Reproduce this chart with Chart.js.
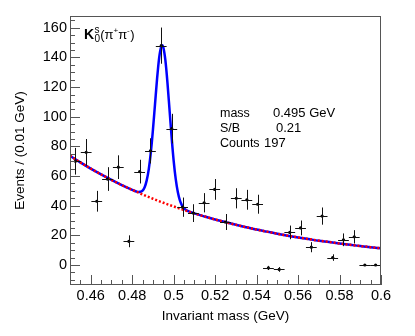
<!DOCTYPE html>
<html>
<head>
<meta charset="utf-8">
<script src="https://cdn.jsdelivr.net/npm/chart.js@4.4.1/dist/chart.umd.min.js"></script>
<style>
  html, body { margin: 0; padding: 0; background: #fff; }
  #wrap { width: 415px; height: 336px; }
</style>
</head>
<body>
<div id="wrap"><canvas id="massChart" width="415" height="336"></canvas></div>
<script>
// histogram: 29 bins between 0.45 and 0.6 GeV
const binCenters = [0.4526, 0.4578, 0.4629, 0.4681, 0.4733, 0.4784, 0.4836, 0.4888, 0.4940, 0.4991,
  0.5043, 0.5095, 0.5147, 0.5198, 0.5250, 0.5302, 0.5353, 0.5405, 0.5457, 0.5509,
  0.5560, 0.5612, 0.5664, 0.5716, 0.5767, 0.5819, 0.5871, 0.5922, 0.5974];
const counts = [70, 76, 43, 58, 66, 16, 63, 77, 148, 92,
  39, 35, 42, 51, 29, 45, 44, 41, -2, -3,
  22, 25, 12, 33, 5, 17, 19, 0, 0];
const countErrors = [9, 9, 7, 8, 8, 4, 8, 8.5, 12.2, 10,
  6.5, 6, 6.5, 7, 5.4, 6.8, 6.7, 6.4, 1.4, 1.6,
  4.6, 5, 3.4, 5.8, 2.2, 4.3, 4.5, 0, 0];
const binHalfWidth = 0.0026;

// signal + background fit (blue)
const fitX = [0.45, 0.455, 0.46, 0.465, 0.47, 0.475, 0.48, 0.481, 0.482, 0.483, 0.484, 0.485, 0.486,
  0.487, 0.488, 0.489, 0.49, 0.491, 0.492, 0.493, 0.494, 0.4945, 0.495, 0.496, 0.497, 0.498, 0.499,
  0.5, 0.501, 0.502, 0.503, 0.504, 0.505, 0.506, 0.507, 0.508, 0.51, 0.515, 0.52, 0.525, 0.53,
  0.535, 0.54, 0.545, 0.55, 0.555, 0.56, 0.565, 0.57, 0.575, 0.58, 0.585, 0.59, 0.595, 0.6];
const fitY = [73.7, 69.2, 65.0, 61.1, 57.4, 53.9, 50.7, 50.1, 49.6, 49.3, 49.4, 50.2, 52.5,
  57.1, 64.7, 76.1, 91.1, 108.4, 125.7, 139.8, 147.4, 148.3, 146.9, 138.2, 123.1, 104.8, 86.4,
  70.3, 57.9, 49.2, 43.6, 40.2, 38.2, 37.1, 36.3, 35.8, 34.8, 32.7, 30.7, 28.9, 27.1,
  25.5, 23.9, 22.5, 21.1, 19.8, 18.6, 17.5, 16.4, 15.5, 14.5, 13.6, 12.8, 12.0, 11.3];

// background only (red dotted)
const bkgX = [0.45, 0.455, 0.46, 0.465, 0.47, 0.475, 0.48, 0.485, 0.49, 0.495, 0.5, 0.505, 0.51,
  0.515, 0.52, 0.525, 0.53, 0.535, 0.54, 0.545, 0.55, 0.555, 0.56, 0.565, 0.57, 0.575, 0.58,
  0.585, 0.59, 0.595, 0.6];
const bkgY = [73.7, 69.2, 65.0, 61.1, 57.4, 53.9, 50.7, 47.6, 44.7, 42.0, 39.5, 37.1, 34.8,
  32.7, 30.7, 28.9, 27.1, 25.5, 23.9, 22.5, 21.1, 19.8, 18.6, 17.5, 16.4, 15.5, 14.5,
  13.6, 12.8, 12.0, 11.3];

const xTicks = [0.46, 0.48, 0.5, 0.52, 0.54, 0.56, 0.58, 0.6];
const yTicks = [0, 20, 40, 60, 80, 100, 120, 140, 160];
const statLabels = ["mass", "S/B", "Counts"];
const statValues = ["0.495 GeV", "0.21", "197"];

const FONT = "'Liberation Sans', Arial, sans-serif";
Chart.defaults.font.family = FONT;
Chart.defaults.color = "#000";

function toPoints(xs, ys) {
  return xs.map((x, i) => ({ x: x, y: ys[i] }));
}

// ROOT-like frame, inward ticks, error bars and the text boxes
const rootStyle = {
  id: "rootStyle",
  afterDatasetsDraw(chart) {
    const ctx = chart.ctx;
    const xs = chart.scales.x, ys = chart.scales.y;
    ctx.save();
    ctx.strokeStyle = "#111";
    ctx.lineWidth = 1;
    binCenters.forEach((c, i) => {
      const px = Math.round(xs.getPixelForValue(c)) + 0.5;
      const py = Math.round(ys.getPixelForValue(counts[i])) + 0.5;
      ctx.beginPath();
      ctx.moveTo(xs.getPixelForValue(c - binHalfWidth), py);
      ctx.lineTo(xs.getPixelForValue(c + binHalfWidth), py);
      if (countErrors[i] > 0) {
        ctx.moveTo(px, ys.getPixelForValue(counts[i] + countErrors[i]));
        ctx.lineTo(px, ys.getPixelForValue(counts[i] - countErrors[i]));
      }
      ctx.stroke();
    });
    ctx.restore();
  },
  afterDraw(chart) {
    const ctx = chart.ctx;
    const { left, right, top, bottom } = chart.chartArea;
    const xs = chart.scales.x, ys = chart.scales.y;
    ctx.save();
    ctx.strokeStyle = "#555";
    ctx.lineWidth = 1;
    ctx.strokeRect(left + 0.5, top + 0.5, right - left - 1, bottom - top - 1);

    ctx.beginPath();
    // y ticks every 5, long ones every 20
    for (let v = -10; v <= 165; v += 5) {
      const py = Math.round(ys.getPixelForValue(v)) + 0.5;
      const len = v % 20 === 0 ? 10 : 5;
      ctx.moveTo(left, py);
      ctx.lineTo(left + len, py);
    }
    // x ticks every 0.005, long ones every 0.02
    for (let k = 0; k <= 30; k++) {
      const px = Math.round(xs.getPixelForValue(0.45 + k * 0.005)) + 0.5;
      const len = (k - 2) % 4 === 0 ? 10 : 5;
      ctx.moveTo(px, bottom);
      ctx.lineTo(px, bottom - len);
    }
    ctx.stroke();

    // K0s label
    ctx.fillStyle = "#000";
    ctx.textAlign = "left";
    ctx.textBaseline = "alphabetic";
    let x = left + 14, y = top + 23;
    ctx.font = "bold 14px " + FONT;
    ctx.fillText("K", x, y);
    x += ctx.measureText("K").width + 0.5;
    ctx.font = "10px " + FONT;
    ctx.fillText("s", x, y - 6);
    ctx.fillText("0", x, y + 3);
    x += ctx.measureText("0").width;
    ctx.font = "13px " + FONT;
    ctx.fillText("(\u03c0", x, y);
    x += ctx.measureText("(\u03c0").width;
    ctx.font = "8px " + FONT;
    ctx.fillText("+", x, y - 6);
    x += ctx.measureText("+").width;
    ctx.font = "13px " + FONT;
    ctx.fillText("\u03c0", x, y);
    x += ctx.measureText("\u03c0").width;
    ctx.font = "8px " + FONT;
    ctx.fillText("-", x, y - 6);
    x += ctx.measureText("-").width + 0.5;
    ctx.font = "13px " + FONT;
    ctx.fillText(")", x, y);

    // fit summary
    const valueX = [left + 203, left + 206, left + 194];
    statLabels.forEach((lab, i) => {
      const by = top + 101 + i * 15;
      ctx.font = "12.5px " + FONT;
      ctx.fillText(lab, left + 150, by);
      ctx.font = "13px " + FONT;
      ctx.fillText(statValues[i], valueX[i], by);
    });
    ctx.restore();
  }
};

new Chart(document.getElementById("massChart"), {
  type: "scatter",
  data: {
    datasets: [
      {
        label: "data",
        data: toPoints(binCenters, counts),
        pointRadius: 1.6,
        pointBackgroundColor: "#000",
        pointBorderWidth: 0,
        order: 0
      },
      {
        label: "background",
        data: toPoints(bkgX, bkgY),
        showLine: true,
        pointRadius: 0,
        borderColor: "#ff0000",
        borderWidth: 2.5,
        borderDash: [2, 2],
        cubicInterpolationMode: "monotone",
        order: 1
      },
      {
        label: "fit",
        data: toPoints(fitX, fitY),
        showLine: true,
        pointRadius: 0,
        borderColor: "#0000ff",
        borderWidth: 2.5,
        cubicInterpolationMode: "monotone",
        order: 2
      }
    ]
  },
  options: {
    responsive: false,
    animation: false,
    layout: { padding: { left: 0, top: 16, right: 34, bottom: 0 } },
    plugins: {
      legend: { display: false },
      tooltip: { enabled: false }
    },
    scales: {
      x: {
        type: "linear",
        min: 0.45,
        max: 0.6,
        grid: { display: false, drawTicks: false },
        border: { display: false },
        afterBuildTicks: scale => { scale.ticks = xTicks.map(v => ({ value: v })); },
        afterFit: scale => { scale.height = 51; },
        ticks: {
          autoSkip: false,
          maxRotation: 0,
          padding: 2,
          color: "#000",
          font: { size: 14.5 },
          callback: v => String(parseFloat(v.toFixed(2)))
        },
        title: {
          display: true,
          text: "Invariant mass (GeV)",
          color: "#000",
          font: { size: 13.5 },
          padding: { top: 0, bottom: 12 }
        }
      },
      y: {
        min: -13.5,
        max: 168,
        grid: { display: false, drawTicks: false },
        border: { display: false },
        afterBuildTicks: scale => { scale.ticks = yTicks.map(v => ({ value: v })); },
        afterFit: scale => { scale.width = 70; },
        ticks: {
          padding: 3,
          color: "#000",
          font: { size: 14.5 }
        },
        title: {
          display: true,
          text: "Events / (0.01 GeV)",
          color: "#000",
          font: { size: 13.5 },
          padding: { top: 12, bottom: 0 }
        }
      }
    }
  },
  plugins: [rootStyle]
});
</script>
</body>
</html>
